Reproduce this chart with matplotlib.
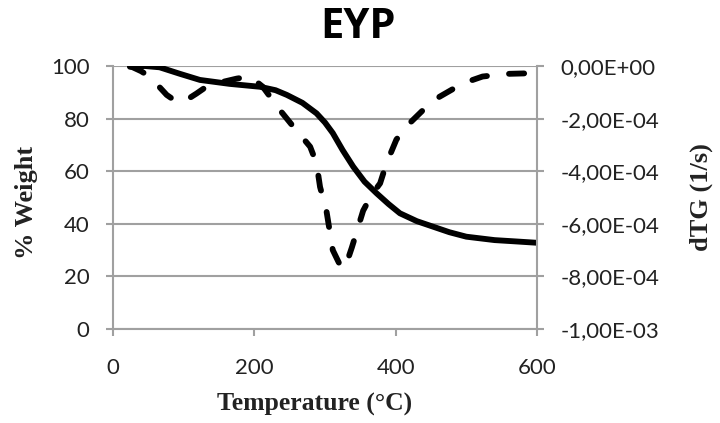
import matplotlib
matplotlib.use("Agg")
import matplotlib.pyplot as plt
from matplotlib.ticker import FixedLocator, FixedFormatter

# TG curve (% weight vs temperature)
tg_temp = [24, 45, 66, 95, 123, 165, 208, 230, 246, 268, 288, 300, 311, 325, 340, 356, 373, 390, 406, 430, 453, 476, 500, 540, 570, 599]
tg_weight = [99.7, 100.0, 99.5, 97.0, 94.7, 93.2, 92.1, 90.8, 89.0, 86.0, 82.0, 78.5, 74.5, 68.0, 61.7, 56.0, 51.6, 47.5, 44.0, 41.0, 38.9, 36.8, 35.1, 33.8, 33.3, 32.8]

# dTG curve (1/s vs temperature)
dtg_temp = [24, 40, 52, 64, 76, 90, 104, 118, 132, 156, 175, 194, 212, 236, 255, 279, 288, 293, 302, 311, 320, 328, 338, 354, 366, 378, 387, 401, 415, 439, 462, 495, 523, 557, 585]
dtg_value = [0.0, -2.0e-5, -4.1e-5, -7.5e-5, -1.1e-4, -1.36e-4, -1.29e-4, -1.05e-4, -7.9e-5, -6.0e-5, -4.8e-5, -4.0e-5, -7.9e-5, -1.67e-4, -2.3e-4, -3.07e-4, -3.7e-4, -4.6e-4, -5.5e-4, -7.0e-4, -7.5e-4, -7.7e-4, -6.9e-4, -5.5e-4, -4.9e-4, -4.46e-4, -3.7e-4, -2.8e-4, -2.3e-4, -1.67e-4, -1.17e-4, -6.6e-5, -4.0e-5, -3.0e-5, -2.8e-5]

x_ticks = [0, 200, 400, 600]
left_ticks = [0, 20, 40, 60, 80, 100]
right_ticks = [-1.0e-3, -8.0e-4, -6.0e-4, -4.0e-4, -2.0e-4, 0.0]
right_labels = ["-1,00E-03", "-8,00E-04", "-6,00E-04", "-4,00E-04", "-2,00E-04", "0,00E+00"]

grid_c = "#a0a0a0"
text_c = "#222222"
tick_font = "Lato"
label_font = "Liberation Serif"

fig = plt.figure(figsize=(7.2, 4.23), dpi=100)
ax = fig.add_axes([113/720, 1 - 329/423, (537-113)/720, (329-66)/423])
ax2 = ax.twinx()

ax.set_xlim(0, 600)
ax.set_ylim(0, 100)
ax2.set_ylim(-1.0e-3, 0.0)

ax.xaxis.set_major_locator(FixedLocator(x_ticks))
ax.yaxis.set_major_locator(FixedLocator(left_ticks))
ax2.yaxis.set_major_locator(FixedLocator(right_ticks))
ax2.yaxis.set_major_formatter(FixedFormatter(right_labels))

ax.grid(axis="y", color=grid_c, linewidth=1.5)
ax.set_axisbelow(True)

for a in (ax, ax2):
    for s in a.spines.values():
        s.set_visible(False)
ax.spines["left"].set_visible(True)
ax.spines["bottom"].set_visible(True)
ax2.spines["right"].set_visible(True)
for s in (ax.spines["left"], ax.spines["bottom"], ax2.spines["right"]):
    s.set_color(grid_c)
    s.set_linewidth(1.5)

ax.tick_params(axis="y", direction="out", length=5, width=1.5, color=grid_c,
               labelsize=16, labelcolor=text_c, pad=12)
ax.tick_params(axis="x", direction="out", length=5, width=1.5, color=grid_c,
               labelsize=16, labelcolor=text_c, pad=16)
ax2.tick_params(axis="y", direction="out", length=5, width=1.5, color=grid_c,
                labelsize=16, labelcolor=text_c, pad=12)
for lab in ax.get_xticklabels() + ax.get_yticklabels() + ax2.get_yticklabels():
    lab.set_fontfamily(tick_font)

ax.plot(tg_temp, tg_weight, color="black", linewidth=4.2, solid_joinstyle="round",
        solid_capstyle="round", zorder=3)
ax2.plot(dtg_temp, dtg_value, color="black", linewidth=4.2, linestyle=(0, (2.6, 3.8)),
         dash_capstyle="round", dash_joinstyle="round", zorder=3)

ax.set_xlabel("Temperature (°C)", fontfamily=label_font, fontweight="bold",
              fontsize=18.5, color=text_c, va="center")
ax.xaxis.set_label_coords((315 - 113) / 424, (329 - 404) / 263)
ax.set_ylabel("% Weight", fontfamily=label_font, fontweight="bold",
              fontsize=19, color=text_c, va="center")
ax.yaxis.set_label_coords((26 - 113) / 424, 0.48)
ax2.set_ylabel("dTG (1/s)", fontfamily=label_font, fontweight="bold",
               fontsize=19, color=text_c, va="center")
ax2.yaxis.set_label_coords((701 - 113) / 424, 0.5)

fig.text(358 / 720, 1 - 27 / 423, "EYP", ha="center", va="center",
         fontfamily="Open Sans", fontweight="bold", fontsize=30, color="black")

fig.savefig("out.png", dpi=100)
